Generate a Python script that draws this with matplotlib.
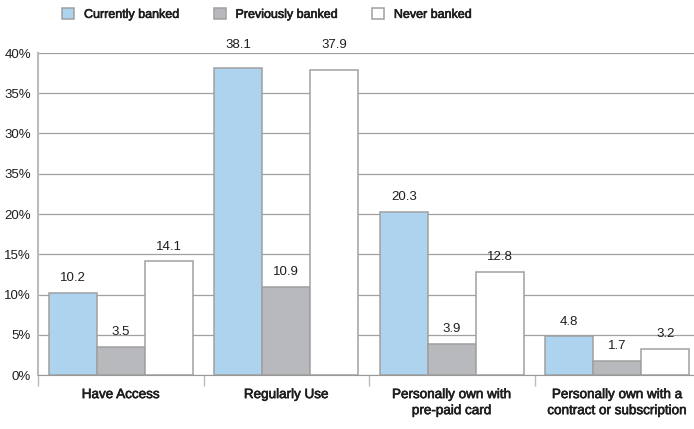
import matplotlib.pyplot as plt
import matplotlib.patheffects as pe
import numpy as np

categories = ["Have Access", "Regularly Use", "Personally own with\npre-paid card",
              "Personally own with a\ncontract or subscription"]
series_names = ["Currently banked", "Previously banked", "Never banked"]
currently = [10.2, 38.1, 20.3, 4.8]
previously = [3.5, 10.9, 3.9, 1.7]
never = [14.1, 37.9, 12.8, 3.2]
y_ticks = [0, 5, 10, 15, 20, 25, 30, 35, 40]
y_tick_labels = ["0%", "5%", "10%", "15%", "20%", "35%", "30%", "35%", "40%"]

colors = ["#aed3ee", "#b8b9bd", "#ffffff"]
edge = "#a0a0a0"
txt = "#1e1e1e"
# slightly heavier strokes for the label text
heavy = [pe.withStroke(linewidth=0.45, foreground=txt)]

plt.rcParams['font.family'] = ['Liberation Sans', 'DejaVu Sans']

fig = plt.figure(figsize=(6.94, 4.29), dpi=100)
ax = fig.add_axes([38/694, 1 - 375/429, 662/694, 322/429])

x = np.arange(len(categories))
w = 0.29
for i, (vals, name) in enumerate(zip([currently, previously, never], series_names)):
    pos = x + (i - 1) * w
    ax.bar(pos, vals, width=w, color=colors[i], edgecolor=edge, linewidth=1.1,
           label=name, zorder=3)
    for p, v in zip(pos, vals):
        # labels of the tallest bars go above the top gridline
        ty = v + 1.1 if v + 1.1 < 39 else 40.3
        ax.text(p, ty, f"{v:.1f}", ha="center", va="bottom",
                fontsize=9.5, color=txt, clip_on=False)

ax.set_xlim(-0.5, 3.5)
ax.set_ylim(0, 40)
ax.set_yticks(y_ticks)
ax.set_yticklabels(y_tick_labels, fontsize=9.5, color=txt)
ax.yaxis.grid(True, color="#a0a0a0", linewidth=0.9, zorder=0)
ax.tick_params(axis="y", length=0, pad=5)

# category separators as ticks below the axis
ax.set_xticks(np.arange(-0.5, 4, 1))
ax.set_xticklabels([])
ax.tick_params(axis="x", length=8, width=1, color="#bbbbbb", direction="out")
for xi, c in zip(x, categories):
    ax.text(xi, -1.75, c, ha="center", va="top", fontsize=9.7,
            color=txt, linespacing=1.45, path_effects=heavy)

for s in ["top", "right"]:
    ax.spines[s].set_visible(False)
ax.spines["left"].set_color("#bbbbbb")
ax.spines["left"].set_linewidth(1.5)
ax.spines["bottom"].set_color("#999999")
ax.spines["bottom"].set_zorder(4)

leg = fig.legend(loc="center left", bbox_to_anchor=(62/694, 1 - 14.5/429), ncol=3,
                 frameon=False, fontsize=9, handlelength=0.96, handleheight=0.96,
                 columnspacing=2.7, handletextpad=0.8, borderaxespad=0, borderpad=0)
for t in leg.get_texts():
    t.set_color(txt)
    t.set_path_effects(heavy)

fig.savefig("out.png", dpi=100)
